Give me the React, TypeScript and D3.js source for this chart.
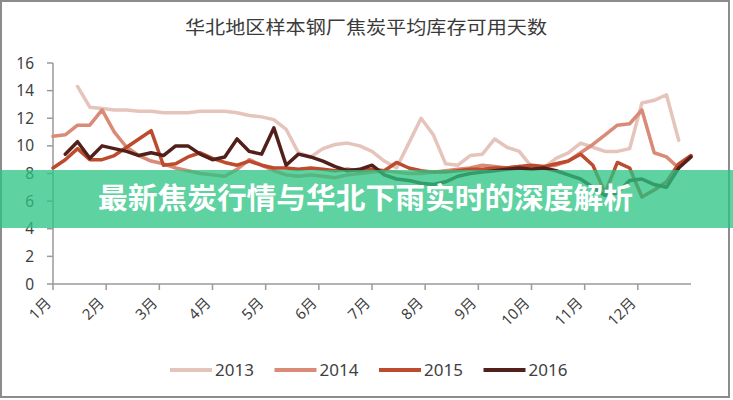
import * as d3 from 'd3';

// weekly values, index = week of year (0..52), null = no data
const weeks = d3.range(53);
const s2013 = [null, null, 14.3, 12.8, 12.7, 12.6, 12.6, 12.5, 12.5, 12.4, 12.4, 12.4, 12.5, 12.5, 12.5, 12.4, 12.2, 12.1, 11.9, 11.2, 9.5, 9.2, 9.8, 10.1, 10.2, 10.0, 9.6, 8.9, 8.4, 10.2, 12.0, 10.8, 8.7, 8.6, 9.3, 9.4, 10.5, 9.9, 9.6, 8.5, 8.4, 9.1, 9.5, 10.2, 9.9, 9.6, 9.6, 9.8, 13.1, 13.3, 13.7, 10.4, null];
const s2014 = [10.7, 10.8, 11.5, 11.5, 12.6, 11.0, 9.9, 9.3, 8.9, 8.7, 8.4, 8.2, 8.0, 7.9, 7.8, 8.3, 9.0, 8.6, 8.2, 7.9, 7.8, 7.9, 7.8, 7.7, 7.9, 8.0, 8.1, 8.2, 8.1, 8.0, 8.0, 8.1, 8.2, 8.3, 8.4, 8.6, 8.5, 8.4, 8.5, 8.4, 8.5, 8.6, 8.9, 9.5, 10.1, 10.8, 11.5, 11.6, 12.6, 9.5, 9.2, 8.4, null];
const s2015 = [8.4, 9.0, 9.8, 9.0, 9.0, 9.3, 9.9, 10.5, 11.1, 8.6, 8.7, 9.2, 9.5, 9.1, 8.8, 8.6, 8.9, 8.6, 8.4, 8.4, 8.3, 8.4, 8.3, 8.2, 8.3, 8.2, 8.3, 8.2, 8.8, 8.4, 8.2, 8.1, 8.1, 8.2, 8.3, 8.3, 8.4, 8.4, 8.5, 8.6, 8.5, 8.7, 8.9, 9.4, 8.6, 6.6, 8.8, 8.4, 6.3, 6.8, 7.4, 8.7, 9.3];
const s2016 = [null, 9.4, 10.3, 9.1, 10.0, 9.8, 9.6, 9.3, 9.5, 9.3, 10.0, 10.0, 9.4, 9.0, 9.2, 10.5, 9.6, 9.4, 11.3, 8.6, 9.4, 9.2, 8.9, 8.5, 8.2, 8.3, 8.6, 7.9, 7.6, 7.5, 7.3, 7.2, 7.4, 7.8, 8.0, 8.1, 8.2, 8.3, 8.4, 8.3, 8.4, 8.2, 7.9, 7.6, 7.0, 6.4, 6.6, 7.5, 7.6, 7.2, 7.0, 8.4, 9.2];

const seriesNames = ['2013', '2014', '2015', '2016'];
const seriesData = [s2013, s2014, s2015, s2016];
const colors = ['#e5c4bc', '#d98b77', '#bd4b2d', '#52201a'];

const months = ['1月', '2月', '3月', '4月', '5月', '6月', '7月', '8月', '9月', '10月', '11月', '12月'];
const yTicks = [0, 2, 4, 6, 8, 10, 12, 14, 16];

const title = '华北地区样本钢厂焦炭平均库存可用天数';
const banner = '最新焦炭行情与华北下雨实时的深度解析';

const W = 733;
const H = 400;

export default function App() {
  const x = d3.scaleLinear().domain([0, 12]).range([53, 691]);
  const y = d3.scaleLinear().domain([0, 16]).range([284, 63]);
  const weekX = (i: number) => x((i * 12) / 52);

  const line = d3
    .line<number | null>()
    .defined((d) => d != null)
    .x((_, i) => weekX(weeks[i]))
    .y((d) => y(d as number));

  const font = "'Noto Sans', 'Noto Sans CJK SC', sans-serif";

  return (
    <svg width={W} height={H} style={{ position: 'absolute', left: 0, top: 0, background: '#fff' }}>
      <rect x={1} y={1} width={728} height={396} fill="#fff" stroke="#8c8c8c" strokeWidth={2} />

      <text
        x={366}
        y={34}
        textAnchor="middle"
        fontSize={18}
        fill="#3a3a3a"
        fontFamily="'Noto Sans CJK SC', sans-serif"
        textLength={362}
        lengthAdjust="spacingAndGlyphs"
      >
        {title}
      </text>

      {/* y axis */}
      <line x1={x(0)} x2={x(0)} y1={y(16)} y2={y(0)} stroke="#9a9a9a" strokeWidth={1.5} />
      {yTicks.map((t) => (
        <g key={t}>
          <line x1={x(0) - 6} x2={x(0)} y1={y(t)} y2={y(t)} stroke="#9a9a9a" strokeWidth={1.5} />
          <text x={34} y={y(t)} dy="0.36em" textAnchor="end" fontSize={15.5} fill="#3f3f3f" fontFamily={font}>
            {t}
          </text>
        </g>
      ))}

      {/* x axis */}
      <line x1={x(0)} x2={x(12)} y1={y(0)} y2={y(0)} stroke="#9a9a9a" strokeWidth={1.5} />
      {months.map((m, i) => (
        <g key={m}>
          <line x1={x(i)} x2={x(i)} y1={y(0)} y2={y(0) + 6} stroke="#9a9a9a" strokeWidth={1.5} />
          <text
            transform={`translate(${x(i) - 1},${y(0) + 20}) rotate(-45)`}
            textAnchor="end"
            fontSize={15}
            fill="#3f3f3f"
            fontFamily={font}
          >
            {m}
          </text>
        </g>
      ))}

      {/* series */}
      {seriesData.map((s, k) => (
        <path
          key={seriesNames[k]}
          d={line(s) || ''}
          fill="none"
          stroke={colors[k]}
          strokeWidth={3.5}
          strokeLinejoin="round"
          strokeLinecap="round"
        />
      ))}

      {/* legend */}
      {seriesNames.map((n, k) => {
        const lx = 170 + k * 104.5;
        return (
          <g key={n}>
            <line x1={lx} x2={lx + 42} y1={370} y2={370} stroke={colors[k]} strokeWidth={4} />
            <text x={lx + 45} y={370} dy="0.36em" fontSize={17} fill="#3f3f3f" fontFamily={font}>
              {n}
            </text>
          </g>
        );
      })}

      {/* overlay banner */}
      <rect x={0} y={170} width={W} height={58} fill="rgb(43,196,132)" opacity={0.76} />
      <text
        x={365.5}
        y={209}
        textAnchor="middle"
        fontSize={29}
        fontWeight={700}
        fill="#fff"
        fontFamily="'Noto Sans CJK SC', sans-serif"
        textLength={535}
        lengthAdjust="spacingAndGlyphs"
      >
        {banner}
      </text>
    </svg>
  );
}
